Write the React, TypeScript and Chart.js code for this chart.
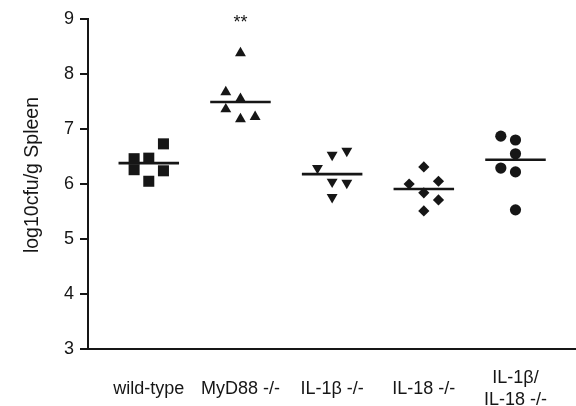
import { useEffect, useRef } from 'react';
import { Chart, registerables } from 'chart.js';

Chart.register(...registerables);

// ---- data ----
const categories: (string | string[])[] = [
  'wild-type',
  'MyD88 -/-',
  'IL-1β -/-',
  'IL-18 -/-',
  ['IL-1β/', 'IL-18 -/-'],
];
const yTicks = [3, 4, 5, 6, 7, 8, 9];

// individual animals (log10 cfu / g spleen) and their jitter column (-1, 0, +1)
const wildTypeValues = [6.46, 6.26, 6.47, 6.05, 6.73, 6.24];
const wildTypeCols = [-1, -1, 0, 0, 1, 1];
const myd88Values = [7.67, 7.36, 8.38, 7.55, 7.18, 7.22];
const myd88Cols = [-1, -1, 0, 0, 0, 1];
const il1bValues = [6.29, 6.53, 6.04, 5.76, 6.6, 6.02];
const il1bCols = [-1, 0, 0, 0, 1, 1];
const il18Values = [6.0, 6.31, 5.84, 5.51, 6.05, 5.71];
const il18Cols = [-1, 0, 0, 0, 1, 1];
const dkoValues = [6.87, 6.29, 6.8, 6.55, 6.22, 5.53];
const dkoCols = [-1, -1, 0, 0, 0, 0];

// group means (horizontal bars)
const meanValues = [6.38, 7.49, 6.18, 5.91, 6.44];
const significance = ['', '**', '', '', ''];

const COL_STEP = 0.16;
const MEAN_HALF = 0.33;
const INK = '#161616';
const FONT = '"Liberation Sans", Arial, sans-serif';

const groups = [
  { values: wildTypeValues, cols: wildTypeCols, style: 'rect', radius: 7.8, rotation: 0 },
  { values: myd88Values, cols: myd88Cols, style: 'triangle', radius: 6.3, rotation: 0 },
  { values: il1bValues, cols: il1bCols, style: 'triangle', radius: 6.3, rotation: 180 },
  { values: il18Values, cols: il18Cols, style: 'rectRot', radius: 5.6, rotation: 0 },
  { values: dkoValues, cols: dkoCols, style: 'circle', radius: 5.6, rotation: 0 },
];

const yTitlePlugin = {
  id: 'yTitleAndStars',
  afterDraw(chart: any) {
    const { ctx, scales } = chart;
    ctx.save();
    ctx.fillStyle = INK;
    ctx.font = `19.5px ${FONT}`;
    ctx.textAlign = 'center';
    ctx.textBaseline = 'middle';
    ctx.translate(33, 175);
    ctx.rotate(-Math.PI / 2);
    ctx.fillText('log10cfu/g Spleen', 0, 0);
    ctx.restore();

    ctx.save();
    ctx.fillStyle = INK;
    ctx.font = `18px ${FONT}`;
    ctx.textAlign = 'center';
    ctx.textBaseline = 'top';
    significance.forEach((s, i) => {
      if (!s) return;
      const x = scales.x.getPixelForValue(i + 1);
      const y = scales.y.getPixelForValue(9);
      ctx.fillText(s, x, y - 5);
    });
    ctx.restore();
  },
};

export default function App() {
  const ref = useRef<HTMLCanvasElement>(null);

  useEffect(() => {
    document.body.style.margin = '0';
    document.body.style.overflow = 'hidden';
    const datasets: any[] = [];
    groups.forEach((g, gi) => {
      datasets.push({
        type: 'scatter',
        data: g.values.map((v, k) => ({ x: gi + 1 + g.cols[k] * COL_STEP, y: v })),
        pointStyle: g.style,
        pointRadius: g.radius,
        pointRotation: g.rotation,
        backgroundColor: INK,
        borderColor: INK,
        borderWidth: 0,
      });
    });
    meanValues.forEach((m, i) => {
      datasets.push({
        type: 'line',
        data: [
          { x: i + 1 - MEAN_HALF, y: m },
          { x: i + 1 + MEAN_HALF, y: m },
        ],
        borderColor: INK,
        borderWidth: 2.6,
        pointRadius: 0,
        fill: false,
      });
    });

    const chart = new Chart(ref.current!, {
      type: 'scatter',
      data: { datasets },
      plugins: [yTitlePlugin],
      options: {
        animation: false,
        responsive: false,
        layout: { autoPadding: false, padding: { top: 19, left: 0, right: 0, bottom: 0 } },
        plugins: { legend: { display: false }, tooltip: { enabled: false } },
        scales: {
          x: {
            type: 'linear',
            min: 0.337,
            max: 5.66,
            afterBuildTicks: (axis: any) => {
              axis.ticks = categories.map((_, i) => ({ value: i + 1 }));
            },
            afterFit: (axis: any) => {
              axis.height = 57;
              axis.paddingLeft = 0;
              axis.paddingRight = 0;
            },
            grid: { display: false },
            border: { display: true, color: INK, width: 2 },
            ticks: {
              autoSkip: false,
              maxRotation: 0,
              padding: 21,
              crossAlign: 'center',
              color: INK,
              font: { family: FONT, size: 18 },
              callback: (v: any) => categories[Math.round(v) - 1] as any,
            },
          },
          y: {
            type: 'linear',
            min: 3,
            max: 9,
            afterBuildTicks: (axis: any) => {
              axis.ticks = yTicks.map((v) => ({ value: v }));
            },
            afterFit: (axis: any) => {
              axis.width = 88;
            },
            grid: {
              display: true,
              drawOnChartArea: false,
              drawTicks: true,
              tickLength: 8,
              color: INK,
              lineWidth: 2,
            },
            border: { display: true, color: INK, width: 2 },
            ticks: {
              padding: 6,
              color: INK,
              font: { family: FONT, size: 18 },
            },
          },
        },
      },
    });
    return () => chart.destroy();
  }, []);

  return <canvas ref={ref} width={576} height={406} style={{ display: 'block' }} />;
}
